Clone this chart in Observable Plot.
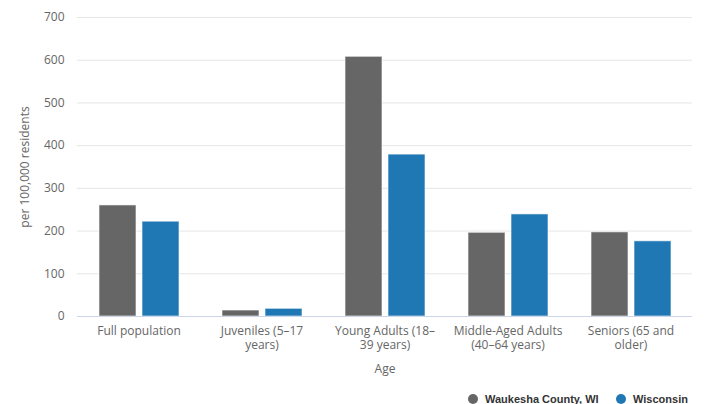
<!DOCTYPE html>
<html>
<head>
<meta charset="utf-8">
<script src="https://cdn.jsdelivr.net/npm/d3@7"></script>
<script src="https://cdn.jsdelivr.net/npm/@observablehq/plot@0.6"></script>
<style>
  html, body { margin: 0; padding: 0; background: #fff; }
  #wrap { position: relative; width: 706px; height: 404px; overflow: hidden; }
  #legend { position: absolute; left: 0; top: 391px; width: 706px; height: 16px;
    font-family: "Liberation Sans", Arial, sans-serif; font-size: 11px; font-weight: bold; color: #333; }
  .item { position: absolute; top: 0; display: flex; align-items: center; height: 16px; white-space: nowrap; }
  .sw { width: 10px; height: 10px; border-radius: 50%; margin-right: 7px; }
</style>
</head>
<body>
<div id="wrap">
  <div id="chart"></div>
  <div id="legend"></div>
</div>
<script>
const categories = ["Full population", "Juveniles (5–17 years)", "Young Adults (18–39 years)", "Middle-Aged Adults (40–64 years)", "Seniors (65 and older)"];
const categoryLabels = ["Full population", "Juveniles (5–17\nyears)", "Young Adults (18–\n39 years)", "Middle-Aged Adults\n(40–64 years)", "Seniors (65 and\nolder)"];
const seriesNames = ["Waukesha County, WI", "Wisconsin"];
const waukesha = [260, 14, 608, 196, 197];
const wisconsin = [222, 18, 379, 239, 176];
const seriesColors = ["#666666", "#1f77b4"];
const yTicks = [0, 100, 200, 300, 400, 500, 600, 700];

const data = categories.flatMap((c, i) => [
  {age: c, series: seriesNames[0], value: waukesha[i]},
  {age: c, series: seriesNames[1], value: wisconsin[i]}
]);
const labelOf = new Map(categories.map((c, i) => [c, categoryLabels[i]]));

const chart = Plot.plot({
  width: 706,
  height: 391,
  marginTop: 17,
  marginBottom: 75,
  marginLeft: 76,
  marginRight: 13,
  style: {fontFamily: "'Open Sans', sans-serif", fontSize: "12px", color: "#666", background: "white", overflow: "visible"},
  fx: {domain: categories, padding: 0, axis: null},
  x: {domain: seriesNames, paddingInner: 0.15, paddingOuter: 0.5, axis: null},
  y: {domain: [0, 700]},
  color: {domain: seriesNames, range: seriesColors},
  marks: [
    Plot.gridY(yTicks, {stroke: "#e6e6e6", strokeOpacity: 1, strokeWidth: 1}),
    Plot.axisY(yTicks, {tickSize: 0, tickPadding: 13, fill: "#666", fontSize: 12,
      label: "per 100,000 residents", labelAnchor: "center", labelArrow: "none", labelOffset: 57}),
    Plot.barY(data, {fx: "age", x: "series", y: "value", fill: "series", stroke: "#fff", strokeWidth: 1, strokeOpacity: 0.6}),
    Plot.ruleY([0], {stroke: "#ccd6eb", strokeWidth: 1}),
    Plot.axisFx({anchor: "bottom", tickSize: 0, tickPadding: 8, fill: "#666", fontSize: 12, lineHeight: 1.2,
      tickFormat: d => labelOf.get(d), label: "Age", labelAnchor: "center", labelArrow: "none", labelOffset: 56})
  ]
});
document.getElementById("chart").appendChild(chart);

// legend built from the series arrays
const legend = document.getElementById("legend");
const legendX = [468, 616];
seriesNames.forEach((name, i) => {
  const item = document.createElement("div");
  item.className = "item";
  item.style.left = legendX[i] + "px";
  const sw = document.createElement("span");
  sw.className = "sw";
  sw.style.background = seriesColors[i];
  const t = document.createElement("span");
  t.textContent = name;
  item.appendChild(sw);
  item.appendChild(t);
  legend.appendChild(item);
});
</script>
</body>
</html>
